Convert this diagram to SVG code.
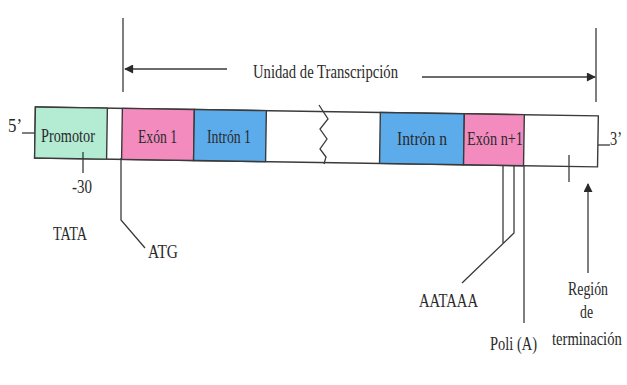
<svg xmlns="http://www.w3.org/2000/svg" width="627" height="385" viewBox="0 0 627 385">
<style>
.t{font-family:"Liberation Serif","Times New Roman",serif;font-size:19px;fill:#2a2a2a}
.ln{stroke:#3a3a3a;stroke-width:1.3;fill:none}
.bx{stroke:#3a3a3a;stroke-width:1.4}
</style>
<defs>
<marker id="ah" viewBox="0 0 10 10" refX="9" refY="5" markerWidth="10" markerHeight="9" markerUnits="userSpaceOnUse" orient="auto">
<path d="M0,0 L10,5 L0,10 Z" fill="#2a2a2a"/>
</marker>
</defs>
<rect width="627" height="385" fill="#fff"/>
<g id="bar" transform="rotate(0.9 35 132)">
<rect x="35" y="107" width="563" height="51" fill="#fff" class="bx"/>
<g id="promotor"><rect x="35" y="107" width="72" height="51" fill="#b3ebd3" class="bx"/></g>
<g id="exon1"><rect x="122" y="107" width="72" height="51" fill="#f38bbf" class="bx"/></g>
<g id="intron1"><rect x="194" y="107" width="72" height="51" fill="#5cacec" class="bx"/></g>
<g id="intronn"><rect x="380" y="107" width="84" height="51" fill="#5cacec" class="bx"/></g>
<g id="exonn1"><rect x="464" y="107" width="60" height="51" fill="#f38bbf" class="bx"/></g>
</g>
<g id="labels-in">
<text class="t" x="41" y="142" textLength="54" lengthAdjust="spacingAndGlyphs">Promotor</text>
<text class="t" x="138" y="143" textLength="39" lengthAdjust="spacingAndGlyphs">Exón 1</text>
<text class="t" x="207" y="143" textLength="44" lengthAdjust="spacingAndGlyphs">Intrón 1</text>
<text class="t" x="397" y="145" textLength="50" lengthAdjust="spacingAndGlyphs">Intrón n</text>
<text class="t" x="467" y="145" textLength="56" lengthAdjust="spacingAndGlyphs">Exón n+1</text>
</g>
<g id="connectors">
<path class="ln" d="M319,105 L328,119 L320,129 L327,139 L320,149 L326,157 L324,164"/>
<path class="ln" d="M22,133 H35"/>
<path class="ln" d="M598,145 H610"/>
<path class="ln" d="M123,18 V92"/>
<path class="ln" d="M596,28 V102"/>
<path class="ln" d="M227,69 L125,69" marker-end="url(#ah)"/>
<path class="ln" d="M422,77 L595,77" marker-end="url(#ah)"/>
<path class="ln" d="M83,152 V173"/>
<path class="ln" d="M121,158 V220 L145,248"/>
<path class="ln" d="M503,165 V243"/>
<path class="ln" d="M514,165 V233 L462,283"/>
<path class="ln" d="M524,165 V323"/>
<path class="ln" d="M569,155 V182"/>
<path class="ln" d="M588,273 V184" marker-end="url(#ah)"/>
</g>
<g id="labels-out">
<text class="t" x="8" y="132" textLength="14" lengthAdjust="spacingAndGlyphs">5’</text>
<text class="t" x="610" y="145" textLength="12" lengthAdjust="spacingAndGlyphs">3’</text>
<text class="t" x="253" y="78" textLength="145" lengthAdjust="spacingAndGlyphs">Unidad de Transcripción</text>
<text class="t" x="72" y="193" textLength="20" lengthAdjust="spacingAndGlyphs">-30</text>
<text class="t" x="53" y="240" textLength="34" lengthAdjust="spacingAndGlyphs">TATA</text>
<text class="t" x="148" y="258" textLength="30" lengthAdjust="spacingAndGlyphs">ATG</text>
<text class="t" x="419" y="307" textLength="59" lengthAdjust="spacingAndGlyphs">AATAAA</text>
<text class="t" x="490" y="350" textLength="47" lengthAdjust="spacingAndGlyphs">Poli (A)</text>
<text class="t" x="568" y="295" textLength="40" lengthAdjust="spacingAndGlyphs">Región</text>
<text class="t" x="580" y="318" textLength="13" lengthAdjust="spacingAndGlyphs">de</text>
<text class="t" transform="translate(552 345) scale(0.77 1)">terminación</text>
</g>
</svg>
